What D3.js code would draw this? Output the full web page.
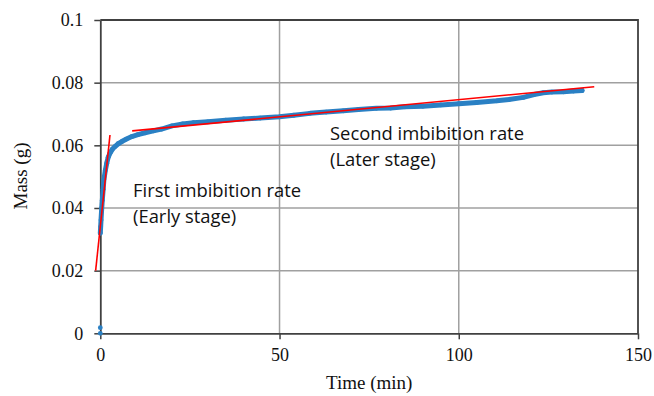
<!DOCTYPE html>
<html lang="en">
<head>
    <meta charset="UTF-8"/>
    <title>Mass vs time</title>
    <script src="https://cdn.jsdelivr.net/npm/d3@7"></script>
    <style>
        body { margin: 0; background: #fff; }
        svg { display: block; }
    </style>
</head>
<body>
<div id="chart"></div>
<script>
    // measured data (time in min, mass in g)
    var timeVals = [0, 0, 0, 0.1, 0.2, 0.4, 0.56, 0.8, 1.0, 1.4, 1.8, 2.2, 2.7, 3.4, 4.1, 5, 6, 7.3, 8.8,
        10.5, 12.5, 14.8, 17.1, 20, 23, 26, 30, 35, 40, 44.6, 50, 54, 58.5, 63, 67.8, 72, 77, 81, 85,
        90, 95, 100, 105, 110.6, 114, 118, 121, 123.6, 126, 129.2, 132, 134.4];
    var massVals = [0, 0.0018, 0.032, 0.034, 0.0362, 0.040, 0.0425, 0.046, 0.049, 0.052, 0.0543, 0.0562,
        0.0575, 0.0588, 0.0596, 0.0605, 0.0612, 0.062, 0.0628, 0.0634, 0.064, 0.0646, 0.0652, 0.0662,
        0.0668, 0.0672, 0.0675, 0.068, 0.0684, 0.0687, 0.0691, 0.0696, 0.0702, 0.0706, 0.071, 0.0714,
        0.0718, 0.0719, 0.0723, 0.0725, 0.0729, 0.0733, 0.0737, 0.0742, 0.0746, 0.0753, 0.0762, 0.0768,
        0.077, 0.0771, 0.0773, 0.0775];

    // fitted rate lines [time, mass]
    var earlyFit = [[-1.3, 0.0200], [2.7, 0.0633]];
    var laterFit = [[8.9, 0.0646], [137.8, 0.0787]];

    var xTicks = [0, 50, 100, 150];
    var yTicks = [0, 0.02, 0.04, 0.06, 0.08, 0.1];
    var yTickLabels = ["0", "0.02", "0.04", "0.06", "0.08", "0.1"];

    var width = 654, height = 396;
    var pLeft = 100.3, pRight = 638, pTop = 20, pBottom = 333.3;

    var x = d3.scaleLinear().domain([0, 150]).range([pLeft, pRight]);
    var y = d3.scaleLinear().domain([0, 0.1]).range([pBottom, pTop]);

    var svg = d3.select('#chart').append('svg')
        .attr('width', width)
        .attr('height', height);

    var data = timeVals.map(function (t, i) { return [t, massVals[i]]; });

    // gridlines
    svg.append('g').selectAll('line')
        .data(yTicks.slice(1, -1))
        .enter().append('line')
        .attr('x1', pLeft).attr('x2', pRight)
        .attr('y1', function (d) { return y(d); })
        .attr('y2', function (d) { return y(d); })
        .attr('stroke', '#a0a0a0').attr('stroke-width', 1.5);
    svg.append('g').selectAll('line')
        .data(xTicks.slice(1, -1))
        .enter().append('line')
        .attr('y1', pTop).attr('y2', pBottom)
        .attr('x1', function (d) { return x(d); })
        .attr('x2', function (d) { return x(d); })
        .attr('stroke', '#a0a0a0').attr('stroke-width', 1.5);

    // plot border (top, right)
    svg.append('path')
        .attr('d', 'M' + pLeft + ',' + pTop + 'H' + pRight + 'V' + pBottom)
        .attr('fill', 'none').attr('stroke', '#404040').attr('stroke-width', 1.8);

    // axes
    var xAxis = d3.axisBottom(x).tickValues(xTicks).tickSize(6).tickSizeOuter(0).tickPadding(9)
        .tickFormat(d3.format('d'));
    var yAxis = d3.axisLeft(y).tickValues(yTicks).tickSize(6).tickSizeOuter(0).tickPadding(11)
        .tickFormat(function (d, i) { return yTickLabels[i]; });

    var gx = svg.append('g').attr('transform', 'translate(0,' + pBottom + ')').call(xAxis);
    var gy = svg.append('g').attr('transform', 'translate(' + pLeft + ',0)').call(yAxis);
    [gx, gy].forEach(function (g) {
        g.select('.domain').attr('stroke', '#404040').attr('stroke-width', 1.8);
        g.selectAll('.tick line').attr('stroke', '#404040').attr('stroke-width', 1.5);
        g.selectAll('.tick text')
            .attr('font-family', '"Liberation Serif", "Times New Roman", serif')
            .attr('font-size', 18).attr('fill', '#111');
    });

    // data band + markers
    var line = d3.line()
        .x(function (d) { return x(d[0]); })
        .y(function (d) { return y(d[1]); });

    svg.append('path')
        .datum(data.slice(2))
        .attr('d', line)
        .attr('fill', 'none')
        .attr('stroke', '#2a80c4')
        .attr('stroke-width', 5)
        .attr('stroke-linejoin', 'round')
        .attr('stroke-linecap', 'round');

    svg.append('g').selectAll('circle')
        .data(data)
        .enter().append('circle')
        .attr('cx', function (d) { return x(d[0]); })
        .attr('cy', function (d) { return y(d[1]); })
        .attr('r', 2.4)
        .attr('fill', '#2a80c4');

    // fitted lines
    [earlyFit, laterFit].forEach(function (f) {
        svg.append('path')
            .datum(f)
            .attr('d', line)
            .attr('fill', 'none')
            .attr('stroke', '#ff0000')
            .attr('stroke-width', 1.6);
    });

    // annotations
    var ann = svg.append('g')
        .attr('font-family', '"Open Sans", sans-serif')
        .attr('font-size', 18.4)
        .attr('fill', '#111');
    ann.append('text').attr('x', 133).attr('y', 197).text('First imbibition rate');
    ann.append('text').attr('x', 133).attr('y', 223).text('(Early stage)');
    ann.append('text').attr('x', 330).attr('y', 140).text('Second imbibition rate');
    ann.append('text').attr('x', 330).attr('y', 166).text('(Later stage)');

    // axis titles
    svg.append('text')
        .attr('x', (pLeft + pRight) / 2).attr('y', 389)
        .attr('text-anchor', 'middle')
        .attr('font-family', '"Liberation Serif", "Times New Roman", serif')
        .attr('font-size', 19).attr('fill', '#111')
        .text('Time (min)');
    svg.append('text')
        .attr('transform', 'translate(27,176) rotate(-90)')
        .attr('text-anchor', 'middle')
        .attr('font-family', '"Liberation Serif", "Times New Roman", serif')
        .attr('font-size', 19).attr('fill', '#111')
        .text('Mass (g)');
</script>
</body>
</html>
